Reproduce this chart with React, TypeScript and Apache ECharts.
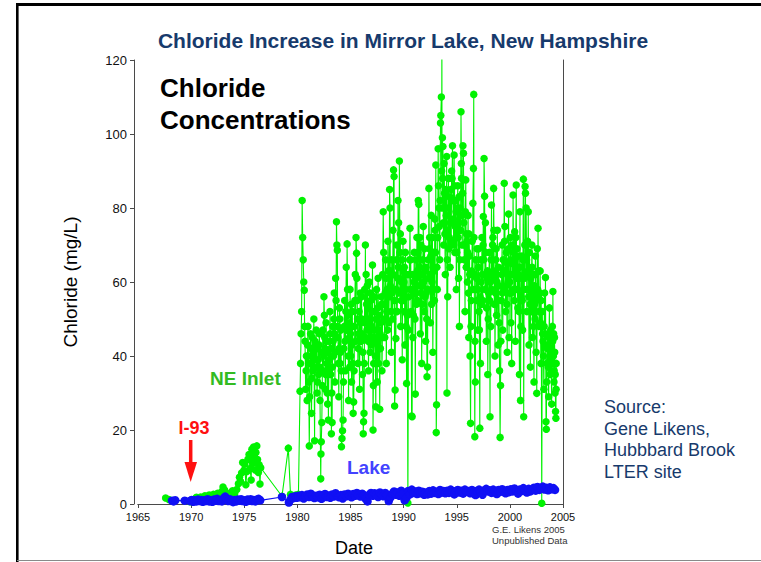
import React, { useEffect, useRef } from "react";
import * as echarts from "echarts";

// NE Inlet chloride (mg/L) by decimal year
const inletEarly: [number, number][] = [
  [1967.6, 1.6], [1967.9, 1.2],
  [1969.9, 0.6], [1970.1, 0.9], [1970.3, 1.3], [1970.5, 1.8], [1970.7, 1.1], [1970.9, 1.9],
  [1971.1, 1.4], [1971.3, 2.2], [1971.5, 1.6], [1971.7, 2.4], [1971.9, 1.8], [1972.1, 2.6],
  [1972.3, 2.0], [1972.5, 2.9], [1972.7, 2.2], [1972.9, 3.4], [1973.0, 4.6], [1973.15, 3.8],
  [1973.3, 2.5], [1973.5, 2.1], [1973.7, 3.0], [1973.9, 3.6], [1974.1, 2.8], [1974.3, 3.9],
  [1974.45, 5.5], [1974.55, 7.2], [1974.65, 6.1], [1974.75, 8.4], [1974.85, 11.2], [1974.95, 9.0],
  [1975.05, 10.8], [1975.15, 5.2], [1975.25, 8.8], [1975.35, 12.1], [1975.45, 13.4], [1975.55, 9.6],
  [1975.65, 6.5], [1975.72, 14.8], [1975.8, 11.0], [1975.88, 15.4], [1975.95, 12.6], [1976.03, 9.2],
  [1976.1, 13.9], [1976.18, 15.7], [1976.25, 12.0], [1976.33, 8.5], [1976.4, 10.6], [1976.48, 5.4],
  [1976.55, 9.8], [1978.55, 2.1], [1979.15, 15.1], [1979.35, 2.6], [1979.6, 2.0], [1979.85, 2.4],
  [1980.1, 2.6],
];

const inlet1980s: [number, number][] = [
  [1980.25, 30.5], [1980.35, 46], [1980.45, 82], [1980.5, 72], [1980.55, 66], [1980.6, 60],
  [1980.65, 57.8], [1980.72, 44], [1980.78, 31], [1980.85, 40], [1980.92, 28],
  [1981.0, 48], [1981.07, 33], [1981.12, 15.7], [1981.2, 38], [1981.27, 42], [1981.33, 24.5],
  [1981.4, 45], [1981.47, 36], [1981.55, 50], [1981.62, 17.1], [1981.7, 39], [1981.77, 47],
  [1981.85, 30], [1981.93, 42],
  [1982.0, 35], [1982.07, 46], [1982.13, 28], [1982.2, 6.8], [1982.22, 13.5], [1982.25, 16.8],
  [1982.3, 22], [1982.37, 41], [1982.43, 36], [1982.5, 56], [1982.57, 45], [1982.63, 31],
  [1982.7, 49], [1982.77, 38], [1982.85, 27], [1982.92, 22.7],
  [1983.0, 44], [1983.07, 52], [1983.13, 35], [1983.2, 19], [1983.27, 22], [1983.33, 48],
  [1983.4, 40], [1983.47, 57], [1983.53, 33], [1983.6, 61], [1983.68, 76.3], [1983.72, 70],
  [1983.76, 68.6], [1983.82, 45], [1983.9, 29], [1983.96, 53],
  [1984.03, 38], [1984.1, 47], [1984.15, 15.5], [1984.2, 17.7], [1984.25, 19.8], [1984.3, 22.7],
  [1984.37, 42], [1984.45, 55], [1984.52, 36], [1984.6, 64], [1984.68, 70.3], [1984.75, 51],
  [1984.82, 28], [1984.9, 45], [1984.96, 58],
  [1985.03, 40], [1985.1, 33], [1985.17, 52], [1985.25, 24.5], [1985.3, 27.6], [1985.37, 48],
  [1985.45, 62], [1985.52, 72], [1985.57, 67.8], [1985.63, 55], [1985.7, 38], [1985.77, 46],
  [1985.85, 31], [1985.92, 57],
  [1986.0, 44], [1986.07, 50], [1986.13, 35], [1986.2, 19], [1986.23, 22.2], [1986.27, 24.5],
  [1986.33, 58], [1986.4, 70], [1986.47, 62], [1986.55, 47], [1986.62, 53], [1986.7, 36],
  [1986.77, 60], [1986.85, 41], [1986.92, 55],
  [1987.0, 48], [1987.07, 64.6], [1987.12, 20], [1987.18, 38], [1987.25, 52], [1987.3, 44],
  [1987.38, 26.3], [1987.45, 58], [1987.52, 33], [1987.6, 61], [1987.67, 47], [1987.75, 25.6],
  [1987.82, 42], [1987.9, 56], [1987.96, 36],
  [1988.03, 62], [1988.08, 79], [1988.15, 54], [1988.22, 45], [1988.3, 66], [1988.37, 38],
  [1988.45, 58], [1988.52, 71], [1988.6, 49], [1988.68, 85], [1988.72, 80], [1988.78, 63],
  [1988.85, 41], [1988.92, 57],
  [1989.0, 74], [1989.05, 90.3], [1989.1, 88.5], [1989.15, 26.5], [1989.2, 30.8], [1989.27, 44.7],
  [1989.33, 66], [1989.4, 52], [1989.47, 82], [1989.53, 76], [1989.6, 92.7], [1989.65, 68],
  [1989.72, 48], [1989.8, 60], [1989.87, 39], [1989.94, 71],
];

// additional 1980s inlet samples
const inlet1980sB: [number, number][] = [
  [1980.3, 38], [1980.4, 52], [1980.68, 48], [1980.82, 36], [1980.96, 43],
  [1981.04, 40], [1981.16, 29], [1981.24, 46], [1981.37, 34], [1981.51, 41], [1981.66, 44],
  [1981.81, 37], [1981.89, 33], [1981.97, 39],
  [1982.04, 43], [1982.1, 37], [1982.34, 32], [1982.4, 47], [1982.47, 40], [1982.54, 51],
  [1982.6, 42], [1982.67, 35], [1982.74, 44], [1982.81, 30], [1982.88, 41], [1982.96, 36],
  [1983.04, 39], [1983.1, 46], [1983.17, 42], [1983.24, 30], [1983.3, 37], [1983.37, 44],
  [1983.44, 50], [1983.5, 46], [1983.57, 41], [1983.64, 55], [1983.79, 48], [1983.86, 38],
  [1983.93, 42],
  [1984.0, 50], [1984.07, 41], [1984.13, 36], [1984.34, 33], [1984.41, 48], [1984.48, 44],
  [1984.56, 52], [1984.64, 47], [1984.72, 58], [1984.79, 40], [1984.86, 49], [1984.93, 37],
  [1985.0, 46], [1985.07, 54], [1985.14, 43], [1985.21, 38], [1985.34, 36], [1985.41, 55],
  [1985.48, 44], [1985.6, 61], [1985.66, 50], [1985.73, 42], [1985.81, 52], [1985.88, 45],
  [1985.96, 49],
  [1986.04, 56], [1986.1, 46], [1986.17, 41], [1986.3, 38], [1986.37, 49], [1986.44, 45],
  [1986.51, 54], [1986.58, 59], [1986.66, 44], [1986.74, 50], [1986.81, 48], [1986.88, 57],
  [1986.96, 43],
  [1987.03, 52], [1987.1, 45], [1987.15, 32], [1987.22, 47], [1987.27, 56], [1987.34, 40],
  [1987.42, 50], [1987.48, 45], [1987.56, 53], [1987.64, 38], [1987.71, 51], [1987.79, 46],
  [1987.86, 49], [1987.93, 54],
  [1988.0, 45], [1988.12, 68], [1988.18, 50], [1988.26, 57], [1988.33, 61], [1988.41, 52],
  [1988.49, 47], [1988.56, 63], [1988.64, 56], [1988.75, 59], [1988.82, 52], [1988.88, 66],
  [1988.96, 50],
  [1989.03, 62], [1989.13, 55], [1989.24, 52], [1989.3, 58], [1989.37, 70], [1989.44, 61],
  [1989.5, 64], [1989.57, 57], [1989.69, 73], [1989.76, 55], [1989.84, 66], [1989.9, 58],
  [1989.97, 63],
];

const inlet1990s: [number, number][] = [
  [1990.0, 55], [1990.07, 64], [1990.13, 43], [1990.2, 58], [1990.28, 32.6], [1990.35, 51],
  [1990.4, 0.3], [1990.45, 47], [1990.52, 62], [1990.6, 74.5], [1990.67, 66], [1990.75, 23.8],
  [1990.8, 23.6], [1990.87, 45], [1990.94, 57],
  [1991.0, 68], [1991.07, 50], [1991.1, 29.7], [1991.17, 61], [1991.25, 72], [1991.32, 55],
  [1991.38, 82], [1991.43, 81], [1991.5, 64], [1991.57, 46], [1991.63, 70], [1991.7, 38],
  [1991.78, 59], [1991.85, 75], [1991.92, 52],
  [1992.0, 63], [1992.07, 44], [1992.13, 57], [1992.2, 34.4], [1992.25, 37], [1992.32, 66],
  [1992.38, 85.3], [1992.45, 72], [1992.52, 49], [1992.6, 78], [1992.67, 60], [1992.75, 41],
  [1992.82, 68], [1992.9, 55], [1992.96, 74],
  [1993.03, 91.6], [1993.07, 19.3], [1993.1, 26.8], [1993.17, 58], [1993.25, 96], [1993.32, 80],
  [1993.4, 66], [1993.47, 103], [1993.5, 105], [1993.55, 110], [1993.6, 124], [1993.65, 99],
  [1993.7, 96.6], [1993.77, 70], [1993.85, 84], [1993.92, 62],
  [1994.0, 78], [1994.05, 93.9], [1994.08, 30], [1994.15, 56], [1994.22, 88], [1994.3, 72],
  [1994.37, 64], [1994.45, 85], [1994.52, 90], [1994.6, 96.8], [1994.68, 77], [1994.75, 94.3],
  [1994.82, 68], [1994.9, 82], [1994.96, 58],
  [1995.03, 75], [1995.1, 86], [1995.17, 61], [1995.25, 48], [1995.32, 80], [1995.4, 106],
  [1995.45, 88], [1995.52, 70], [1995.58, 96.8], [1995.63, 94.8], [1995.7, 66], [1995.78, 52],
  [1995.85, 87.6], [1995.92, 73],
  [1996.0, 60], [1996.07, 78], [1996.13, 45], [1996.2, 67], [1996.25, 40], [1996.3, 21.8],
  [1996.37, 55], [1996.45, 71], [1996.52, 81.3], [1996.57, 90.7], [1996.6, 110.7], [1996.65, 62],
  [1996.7, 18.2], [1996.75, 33], [1996.82, 58], [1996.9, 69], [1996.96, 47],
  [1997.03, 64], [1997.1, 52], [1997.17, 20.5], [1997.23, 38], [1997.3, 60], [1997.37, 72],
  [1997.45, 55], [1997.5, 77.7], [1997.57, 93.4], [1997.62, 83.2], [1997.7, 76], [1997.78, 44],
  [1997.85, 61], [1997.92, 35],
  [1998.0, 57], [1998.07, 68], [1998.13, 23.6], [1998.2, 48], [1998.27, 80.8], [1998.33, 62],
  [1998.4, 72], [1998.47, 85.3], [1998.53, 54], [1998.6, 40], [1998.67, 66], [1998.75, 51],
  [1998.82, 74], [1998.9, 43], [1998.96, 59],
  [1999.03, 36], [1999.08, 18], [1999.12, 32], [1999.2, 55], [1999.27, 70], [1999.33, 47],
  [1999.4, 63], [1999.47, 86.7], [1999.53, 75], [1999.6, 52], [1999.67, 68], [1999.75, 41],
  [1999.82, 60], [1999.88, 78.4], [1999.92, 45], [1999.97, 57],
];

// additional 1990s inlet samples
const inlet1990sB: [number, number][] = [
  [1990.03, 60], [1990.1, 52], [1990.17, 68], [1990.24, 48], [1990.31, 62], [1990.48, 56],
  [1990.56, 66], [1990.64, 58], [1990.71, 52], [1990.84, 62], [1990.91, 51], [1990.97, 60],
  [1991.03, 58], [1991.14, 66], [1991.21, 54], [1991.28, 63], [1991.35, 68], [1991.46, 59],
  [1991.53, 72], [1991.6, 57], [1991.67, 62], [1991.74, 54], [1991.81, 66], [1991.88, 60],
  [1991.96, 69],
  [1992.03, 56], [1992.1, 64], [1992.17, 50], [1992.28, 58], [1992.35, 61], [1992.42, 69],
  [1992.49, 62], [1992.56, 67], [1992.63, 54], [1992.71, 72], [1992.79, 58], [1992.86, 63],
  [1992.93, 77],
  [1993.0, 68], [1993.13, 64], [1993.21, 72], [1993.28, 86], [1993.36, 75], [1993.43, 82],
  [1993.58, 90], [1993.62, 80], [1993.67, 88], [1993.74, 76], [1993.81, 92], [1993.88, 73],
  [1993.96, 85],
  [1994.03, 74], [1994.11, 66], [1994.18, 80], [1994.26, 69], [1994.33, 83], [1994.41, 76],
  [1994.48, 71], [1994.56, 88], [1994.64, 82], [1994.71, 70], [1994.79, 86], [1994.86, 75],
  [1994.93, 79],
  [1995.0, 68], [1995.06, 80], [1995.13, 72], [1995.21, 83], [1995.28, 66], [1995.36, 74],
  [1995.43, 92], [1995.49, 78], [1995.55, 84], [1995.67, 76], [1995.74, 70], [1995.81, 79],
  [1995.89, 64], [1995.96, 71],
  [1996.03, 68], [1996.1, 57], [1996.16, 73], [1996.22, 62], [1996.34, 48], [1996.41, 63],
  [1996.48, 58], [1996.62, 72], [1996.72, 44], [1996.79, 66], [1996.86, 61], [1996.93, 55],
  [1997.0, 58], [1997.06, 69], [1997.13, 47], [1997.2, 56], [1997.27, 66], [1997.34, 54],
  [1997.41, 62], [1997.48, 70], [1997.54, 66], [1997.66, 58], [1997.74, 68], [1997.81, 53],
  [1997.89, 63], [1997.96, 50],
  [1998.03, 62], [1998.1, 55], [1998.17, 60], [1998.23, 66], [1998.3, 58], [1998.37, 70],
  [1998.43, 63], [1998.5, 74], [1998.56, 61], [1998.64, 57], [1998.71, 69], [1998.79, 60],
  [1998.86, 55], [1998.93, 64],
  [1999.0, 49], [1999.15, 44], [1999.23, 62], [1999.3, 57], [1999.37, 66], [1999.43, 58],
  [1999.5, 71], [1999.56, 63], [1999.64, 59], [1999.71, 54], [1999.78, 65], [1999.85, 69],
  [1999.95, 62],
];

const inlet2000s: [number, number][] = [
  [2000.03, 72], [2000.1, 49], [2000.17, 38], [2000.23, 65], [2000.3, 83.5], [2000.37, 58],
  [2000.45, 73.6], [2000.52, 44], [2000.6, 86.2], [2000.67, 69], [2000.75, 53], [2000.82, 62],
  [2000.9, 35], [2000.95, 79],
  [2001.0, 28], [2001.07, 56], [2001.13, 67], [2001.2, 47], [2001.27, 87.8], [2001.3, 23.6],
  [2001.37, 61], [2001.43, 85.8], [2001.47, 84], [2001.53, 80], [2001.6, 52], [2001.67, 71],
  [2001.73, 79], [2001.8, 43], [2001.87, 63], [2001.93, 37],
  [2002.0, 58], [2002.07, 70], [2002.13, 45], [2002.2, 62], [2002.27, 33], [2002.33, 54],
  [2002.4, 67], [2002.47, 41], [2002.53, 29.9], [2002.58, 69], [2002.65, 74.5], [2002.7, 56],
  [2002.77, 48], [2002.85, 63], [2002.92, 38],
  [2003.0, 0.2], [2003.05, 52], [2003.12, 44], [2003.2, 31], [2003.27, 57], [2003.35, 61.2],
  [2003.4, 22.2], [2003.43, 20.2], [2003.5, 38], [2003.57, 46], [2003.65, 29], [2003.72, 53],
  [2003.8, 35], [2003.87, 42], [2003.93, 27],
  [2004.0, 48], [2004.05, 57.4], [2004.1, 40], [2004.15, 33], [2004.2, 45], [2004.25, 30],
  [2004.3, 25], [2004.33, 23.2], [2004.36, 38],
];

// additional 2000s inlet samples
const inlet2000sB: [number, number][] = [
  [2000.0, 60], [2000.06, 66], [2000.13, 57], [2000.2, 70], [2000.27, 62], [2000.34, 68],
  [2000.41, 55], [2000.48, 66], [2000.56, 72], [2000.63, 61], [2000.71, 58], [2000.78, 67],
  [2000.86, 52], [2000.92, 64],
  [2001.03, 48], [2001.1, 61], [2001.17, 55], [2001.23, 66], [2001.34, 58], [2001.4, 70],
  [2001.5, 62], [2001.57, 66], [2001.63, 58], [2001.7, 63], [2001.77, 56], [2001.84, 68],
  [2001.9, 54], [2001.96, 61],
  [2002.03, 52], [2002.1, 64], [2002.17, 57], [2002.23, 48], [2002.3, 59], [2002.37, 50],
  [2002.43, 62], [2002.5, 55], [2002.62, 58], [2002.68, 63], [2002.74, 52], [2002.81, 57],
  [2002.88, 49], [2002.95, 55],
  [2003.08, 46], [2003.16, 40], [2003.23, 48], [2003.31, 43], [2003.46, 33], [2003.53, 42],
  [2003.61, 37], [2003.68, 45], [2003.76, 39], [2003.84, 47], [2003.9, 36], [2003.97, 41],
  [2004.03, 44], [2004.08, 38], [2004.12, 46], [2004.17, 36], [2004.22, 41], [2004.27, 35],
  [2004.35, 31],
];

// Mirror Lake chloride (mg/L) by decimal year
const lakeEarly: [number, number][] = [
  [1968.2, 0.9], [1968.35, 0.7], [1968.5, 1.0], [1969.4, 0.9], [1969.9, 0.8], [1970.05, 1.1],
  [1970.2, 0.6], [1970.35, 1.0], [1970.5, 0.7], [1970.65, 1.2], [1970.8, 0.8], [1970.95, 1.1],
  [1971.1, 0.6], [1971.25, 1.0], [1971.4, 0.8], [1971.55, 1.3], [1971.7, 0.7], [1971.85, 1.0],
  [1972.0, 0.6], [1972.15, 1.2], [1972.3, 0.9], [1972.45, 1.4], [1972.6, 0.8], [1972.75, 1.1],
  [1972.9, 0.7], [1973.05, 1.5], [1973.2, 2.0], [1973.35, 1.2], [1973.5, 0.8], [1973.65, 1.3],
  [1973.8, 0.9], [1973.95, 0.5], [1974.1, 1.1], [1974.25, 0.7], [1974.4, 1.2], [1974.55, 0.9],
  [1974.7, 1.3], [1974.85, 0.8], [1975.0, 1.0], [1975.15, 0.6], [1975.3, 1.2], [1975.45, 0.9],
  [1975.6, 1.3], [1975.75, 0.8], [1975.9, 1.1], [1976.05, 0.7], [1976.2, 1.2], [1976.35, 1.4],
  [1976.5, 1.0], [1978.55, 1.9], [1979.2, 0.4], [1979.35, 1.2], [1979.5, 1.9], [1979.65, 1.6],
  [1979.8, 2.1], [1979.95, 1.7],
];

const lake1980s: [number, number][] = [
  [1980.1, 2.2], [1980.27, 1.8], [1980.43, 2.4], [1980.6, 1.5], [1980.77, 2.1], [1980.93, 2.6],
  [1981.1, 1.9], [1981.27, 2.8], [1981.43, 2.3], [1981.6, 1.6], [1981.77, 2.2], [1981.93, 1.8],
  [1982.1, 2.5], [1982.27, 1.4], [1982.43, 2.1], [1982.6, 2.7], [1982.77, 1.9], [1982.93, 2.3],
  [1983.1, 1.7], [1983.27, 2.6], [1983.43, 2.0], [1983.6, 2.9], [1983.77, 2.2], [1983.93, 1.8],
  [1984.1, 2.4], [1984.27, 1.5], [1984.43, 2.6], [1984.6, 2.1], [1984.77, 2.8], [1984.93, 2.3],
  [1985.1, 1.8], [1985.27, 2.7], [1985.43, 2.2], [1985.6, 3.0], [1985.77, 2.4], [1985.93, 2.0],
  [1986.1, 2.8], [1986.27, 2.3], [1986.43, 1.4], [1986.6, 0.7], [1986.77, 2.5], [1986.93, 3.0],
  [1987.1, 2.2], [1987.27, 2.9], [1987.43, 2.5], [1987.6, 1.9], [1987.77, 3.1], [1987.93, 2.6],
  [1988.1, 2.1], [1988.27, 3.0], [1988.43, 2.4], [1988.6, 0.8], [1988.77, 1.8], [1988.93, 2.8],
  [1989.1, 3.4], [1989.27, 2.5], [1989.43, 3.1], [1989.6, 2.2], [1989.77, 3.6], [1989.93, 2.7],
];

const lake1990s: [number, number][] = [
  [1990.1, 1.0], [1990.27, 1.7], [1990.43, 3.5], [1990.6, 2.6], [1990.77, 3.9], [1990.93, 3.0],
  [1991.1, 3.4], [1991.27, 2.7], [1991.43, 3.6], [1991.6, 2.9], [1991.77, 3.3], [1991.93, 2.5],
  [1992.1, 3.1], [1992.27, 2.6], [1992.43, 3.5], [1992.6, 2.8], [1992.77, 3.7], [1992.93, 3.0],
  [1993.1, 3.3], [1993.27, 2.7], [1993.43, 3.8], [1993.6, 3.1], [1993.77, 3.5], [1993.93, 2.9],
  [1994.1, 3.6], [1994.27, 3.0], [1994.43, 3.9], [1994.6, 3.2], [1994.77, 2.6], [1994.93, 3.5],
  [1995.1, 3.8], [1995.27, 3.1], [1995.43, 3.6], [1995.6, 2.8], [1995.77, 3.9], [1995.93, 3.3],
  [1996.1, 3.5], [1996.27, 2.9], [1996.43, 3.8], [1996.6, 3.2], [1996.77, 2.4], [1996.93, 3.6],
  [1997.1, 3.9], [1997.27, 3.3], [1997.43, 2.5], [1997.6, 3.7], [1997.77, 4.1], [1997.93, 3.4],
  [1998.1, 3.7], [1998.27, 3.0], [1998.43, 3.9], [1998.6, 3.4], [1998.77, 2.7], [1998.93, 3.8],
  [1999.1, 3.3], [1999.27, 4.0], [1999.43, 3.5], [1999.6, 2.9], [1999.77, 3.8], [1999.93, 3.2],
];

const lake2000s: [number, number][] = [
  [2000.1, 4.0], [2000.27, 3.4], [2000.43, 4.2], [2000.6, 3.6], [2000.77, 2.8], [2000.93, 3.9],
  [2001.1, 3.5], [2001.27, 4.3], [2001.43, 3.7], [2001.6, 3.1], [2001.77, 4.1], [2001.93, 3.4],
  [2002.1, 3.9], [2002.27, 4.4], [2002.43, 3.6], [2002.6, 4.6], [2002.77, 3.8], [2002.93, 4.2],
  [2003.1, 4.7], [2003.27, 3.9], [2003.43, 4.4], [2003.6, 3.7], [2003.77, 4.5], [2003.93, 4.0],
  [2004.1, 4.3], [2004.25, 3.8],
];

const yearTicks = { min: 1965, max: 2005, step: 5 };
const chlorideTicks = { min: 0, max: 120, step: 20 };

const FONT = '"Liberation Sans", Arial, Helvetica, sans-serif';
const NAVY = "#173a6c";
const INLET_GREEN = "#00f200";
const LAKE_BLUE = "#1010f4";
const AXIS_GRAY = "#4a4a4a";

const byDate = (a: [number, number], b: [number, number]) => a[0] - b[0];

export default function App() {
  const ref = useRef<HTMLDivElement>(null);

  useEffect(() => {
    if (!ref.current) return;
    const chart = echarts.init(ref.current, undefined, { renderer: "svg" });

    const inlet = [
      ...inletEarly,
      ...inlet1980s, ...inlet1980sB,
      ...inlet1990s, ...inlet1990sB,
      ...inlet2000s, ...inlet2000sB,
    ].sort(byDate);
    const lake = [...lakeEarly, ...lake1980s, ...lake1990s, ...lake2000s];

    const axisLine = { show: true, lineStyle: { color: AXIS_GRAY, width: 1 } };

    chart.setOption({
      animation: false,
      backgroundColor: "#ffffff",
      grid: { left: 138, top: 60, width: 425, height: 444, containLabel: false },
      xAxis: [
        {
          type: "value",
          position: "bottom",
          min: yearTicks.min,
          max: yearTicks.max,
          interval: yearTicks.step,
          axisLine,
          axisTick: { show: true, inside: false, length: 4, lineStyle: { color: AXIS_GRAY } },
          axisLabel: {
            color: "#111",
            fontFamily: FONT,
            fontSize: 11,
            margin: 7,
            formatter: (v: number) => String(v),
          },
          splitLine: { show: false },
        },
        {
          type: "value",
          position: "top",
          min: yearTicks.min,
          max: yearTicks.max,
          interval: yearTicks.step,
          axisLine,
          axisTick: { show: true, inside: true, length: 4, lineStyle: { color: AXIS_GRAY } },
          axisLabel: { show: false },
          splitLine: { show: false },
        },
      ],
      yAxis: [
        {
          type: "value",
          position: "left",
          offset: 4,
          min: chlorideTicks.min,
          max: chlorideTicks.max,
          interval: chlorideTicks.step,
          axisLine,
          axisTick: { show: true, inside: false, length: 4, lineStyle: { color: AXIS_GRAY } },
          axisLabel: { color: "#111", fontFamily: FONT, fontSize: 13, margin: 7 },
          splitLine: { show: false },
          name: "Chloride (mg/L)",
          nameLocation: "middle",
          nameGap: 54,
          nameTextStyle: { color: "#000", fontFamily: FONT, fontSize: 19 },
        },
        {
          type: "value",
          position: "right",
          min: chlorideTicks.min,
          max: chlorideTicks.max,
          interval: chlorideTicks.step,
          axisLine,
          axisTick: { show: false },
          axisLabel: { show: false },
          splitLine: { show: false },
        },
      ],
      series: [
        {
          name: "NE Inlet",
          type: "line",
          data: inlet,
          xAxisIndex: 0,
          yAxisIndex: 0,
          symbol: "circle",
          symbolSize: 7.5,
          showSymbol: true,
          showAllSymbol: true,
          clip: true,
          itemStyle: { color: INLET_GREEN },
          lineStyle: { color: INLET_GREEN, width: 1.1 },
          z: 2,
        },
        {
          name: "Lake",
          type: "line",
          data: lake,
          xAxisIndex: 0,
          yAxisIndex: 0,
          symbol: "circle",
          symbolSize: 8.5,
          showSymbol: true,
          showAllSymbol: true,
          clip: true,
          itemStyle: { color: LAKE_BLUE },
          lineStyle: { color: LAKE_BLUE, width: 1.2 },
          z: 3,
        },
      ],
      graphic: [
        // slide frame
        { type: "line", shape: { x1: 17, y1: 4.5, x2: 761, y2: 4.5 }, style: { stroke: "#000", lineWidth: 3 } },
        { type: "line", shape: { x1: 17.3, y1: 3, x2: 17.3, y2: 562 }, style: { stroke: "#000", lineWidth: 2.6 } },
        { type: "line", shape: { x1: 17, y1: 560.5, x2: 761, y2: 560.5 }, style: { stroke: "#8a8a8a", lineWidth: 1.2 } },
        {
          type: "text",
          x: 403,
          y: 40,
          style: {
            text: "Chloride Increase in Mirror Lake, New Hampshire",
            font: `bold 21px ${FONT}`,
            fill: NAVY,
            textAlign: "center",
            textVerticalAlign: "middle",
          },
        },
        {
          type: "text",
          x: 160,
          y: 72,
          style: {
            text: "Chloride\nConcentrations",
            font: `bold 26px ${FONT}`,
            lineHeight: 32,
            fill: "#000",
            textAlign: "left",
            textVerticalAlign: "top",
          },
        },
        {
          type: "text",
          x: 210,
          y: 378,
          style: { text: "NE Inlet", font: `bold 19px ${FONT}`, fill: "#33bb22", textAlign: "left", textVerticalAlign: "middle" },
        },
        {
          type: "text",
          x: 347,
          y: 467,
          style: { text: "Lake", font: `bold 19px ${FONT}`, fill: "#4343ff", textAlign: "left", textVerticalAlign: "middle" },
        },
        {
          type: "text",
          x: 194,
          y: 428,
          style: { text: "I-93", font: `bold 18px ${FONT}`, fill: "#ff1010", textAlign: "center", textVerticalAlign: "middle" },
        },
        { type: "line", shape: { x1: 190.7, y1: 440, x2: 190.7, y2: 466 }, style: { stroke: "#ff1010", lineWidth: 3.5 } },
        {
          type: "polygon",
          shape: { points: [[184.5, 462], [197, 462], [190.7, 482]] },
          style: { fill: "#ff1010" },
        },
        {
          type: "text",
          x: 354,
          y: 548,
          style: { text: "Date", font: `18px ${FONT}`, fill: "#000", textAlign: "center", textVerticalAlign: "middle" },
        },
        {
          type: "text",
          x: 492,
          y: 535,
          style: {
            text: "G.E. Likens 2005\nUnpublished Data",
            font: `9.5px ${FONT}`,
            lineHeight: 11,
            fill: "#333",
            textAlign: "left",
            textVerticalAlign: "middle",
          },
        },
        {
          type: "text",
          x: 604,
          y: 396,
          style: {
            text: "Source:\nGene Likens,\nHubbbard Brook\nLTER site",
            font: `18px ${FONT}`,
            lineHeight: 21.7,
            fill: NAVY,
            textAlign: "left",
            textVerticalAlign: "top",
          },
        },
      ],
    });

    return () => chart.dispose();
  }, []);

  return (
    <div
      ref={ref}
      style={{ position: "absolute", left: 0, top: 0, width: 761, height: 562, background: "#fff" }}
    />
  );
}
